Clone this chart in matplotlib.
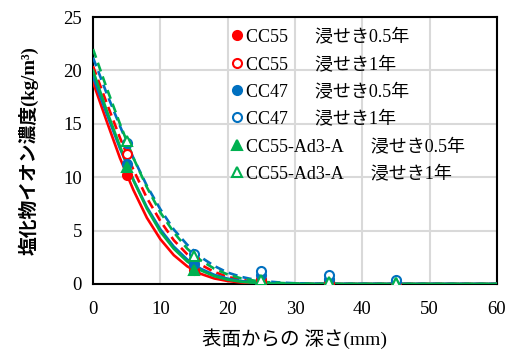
import matplotlib
matplotlib.use("Agg")
import matplotlib.pyplot as plt

plt.rcParams['font.family'] = ['Liberation Serif', 'Noto Sans CJK JP']

# measured points
depth_pts = [5, 15, 25, 35, 45]
cc55_05 = [10.2, 1.3, 0.2, 0.1, 0.1]
cc55_1 = [12.2, 2.3, 0.5, 0.3, 0.1]
cc47_05 = [11.2, 1.9, 0.8, 0.5, 0.3]
cc47_1 = [13.2, 2.8, 1.2, 0.8, 0.4]
ad3_05 = [11.0, 1.3, 0.2, 0.1, 0.05]
ad3_1 = [13.4, 2.6, 0.4, 0.2, 0.1]

# fitted curves
depth_fit = [0, 2, 4, 6, 8, 10, 12, 14, 16, 18, 20, 22, 24, 26, 28, 30, 32, 35, 60]
fit_cc55_05 = [18.9, 15.3, 11.8, 8.8, 6.2, 4.2, 2.7, 1.65, 0.95, 0.52, 0.28, 0.14, 0.07, 0.03, 0.01, 0.005, 0.0, 0.0, 0.0]
fit_cc55_1 = [20.4, 17.0, 13.7, 10.7, 8.06, 5.9, 4.1, 2.78, 1.81, 1.13, 0.67, 0.39, 0.22, 0.12, 0.06, 0.03, 0.01, 0.0, 0.0]
fit_cc47_05 = [19.4, 16.0, 12.7, 9.76, 7.2, 5.12, 3.5, 2.29, 1.43, 0.86, 0.50, 0.28, 0.15, 0.07, 0.035, 0.015, 0.005, 0.0, 0.0]
fit_cc47_1 = [21.2, 17.9, 14.8, 11.8, 9.2, 7.0, 5.1, 3.67, 2.52, 1.69, 1.07, 0.67, 0.40, 0.23, 0.13, 0.07, 0.04, 0.01, 0.0]
fit_ad3_05 = [20.0, 16.3, 12.9, 9.7, 7.06, 4.9, 3.3, 2.1, 1.28, 0.74, 0.41, 0.21, 0.11, 0.05, 0.02, 0.01, 0.0, 0.0, 0.0]
fit_ad3_1 = [22.0, 18.4, 15.0, 11.8, 9.06, 6.7, 4.84, 3.3, 2.22, 1.44, 0.89, 0.53, 0.31, 0.17, 0.09, 0.05, 0.02, 0.0, 0.0]

labels = ['CC55\u3000  浸せき0.5年', 'CC55\u3000  浸せき1年',
          'CC47\u3000  浸せき0.5年', 'CC47\u3000  浸せき1年',
          'CC55-Ad3-A\u3000  浸せき0.5年', 'CC55-Ad3-A\u3000  浸せき1年']

RED = '#FF0000'
BLUE = '#0070C0'
GREEN = '#00B050'

fig = plt.figure(figsize=(5.15, 3.56), dpi=100)
ax = fig.add_axes([93/515, 1-284/356, 404/515, 267/356])

lw = 1.9
series = [
    (fit_cc55_05, '-', RED), (fit_cc55_1, '--', RED),
    (fit_cc47_05, '-', BLUE), (fit_cc47_1, '--', BLUE),
    (fit_ad3_05, '-', GREEN), (fit_ad3_1, '--', GREEN),
]
for ys, ls, c in series:
    if ls == '--':
        ax.plot(depth_fit, ys, color=c, lw=lw, linestyle=(0, (3.5, 2)), zorder=3)
    else:
        ax.plot(depth_fit, ys, color=c, lw=lw, linestyle='-', zorder=3)

ms = 6.5
pts = [
    (cc55_05, 'o', RED, True), (cc55_1, 'o', RED, False),
    (cc47_05, 'o', BLUE, True), (cc47_1, 'o', BLUE, False),
    (ad3_05, '^', GREEN, True), (ad3_1, '^', GREEN, False),
]
handles = []
for (ys, m, c, filled), lab in zip(pts, labels):
    h, = ax.plot(depth_pts, ys, linestyle='none', marker=m, markersize=ms,
                 markerfacecolor=c if filled else 'white', markeredgecolor=c,
                 markeredgewidth=1.5, label=lab, zorder=4)
    handles.append(h)

ax.set_xlim(0, 60)
ax.set_ylim(0, 25)
ax.set_xticks(range(0, 61, 10))
ax.set_yticks(range(0, 26, 5))
ax.grid(True, color='#d9d9d9', lw=1.5)
ax.set_axisbelow(True)
for s in ax.spines.values():
    s.set_linewidth(1.5)
    s.set_color('black')
ax.tick_params(length=0, labelsize=13.5)
ax.tick_params(axis='x', pad=12)
ax.tick_params(axis='y', pad=8)

ax.set_xlabel('表面からの 深さ(mm)', fontsize=14, labelpad=8)
ax.set_ylabel('塩化物イオン濃度(kg/m³)', fontsize=13.5, fontweight='bold', labelpad=18)

leg = ax.legend(handles=handles, loc='upper left', bbox_to_anchor=(0.315, 1.0),
                frameon=False, fontsize=13, handlelength=0.6, handletextpad=0.2,
                labelspacing=0.57, borderaxespad=0.3, borderpad=0.35)

fig.savefig('out.png', dpi=100)
